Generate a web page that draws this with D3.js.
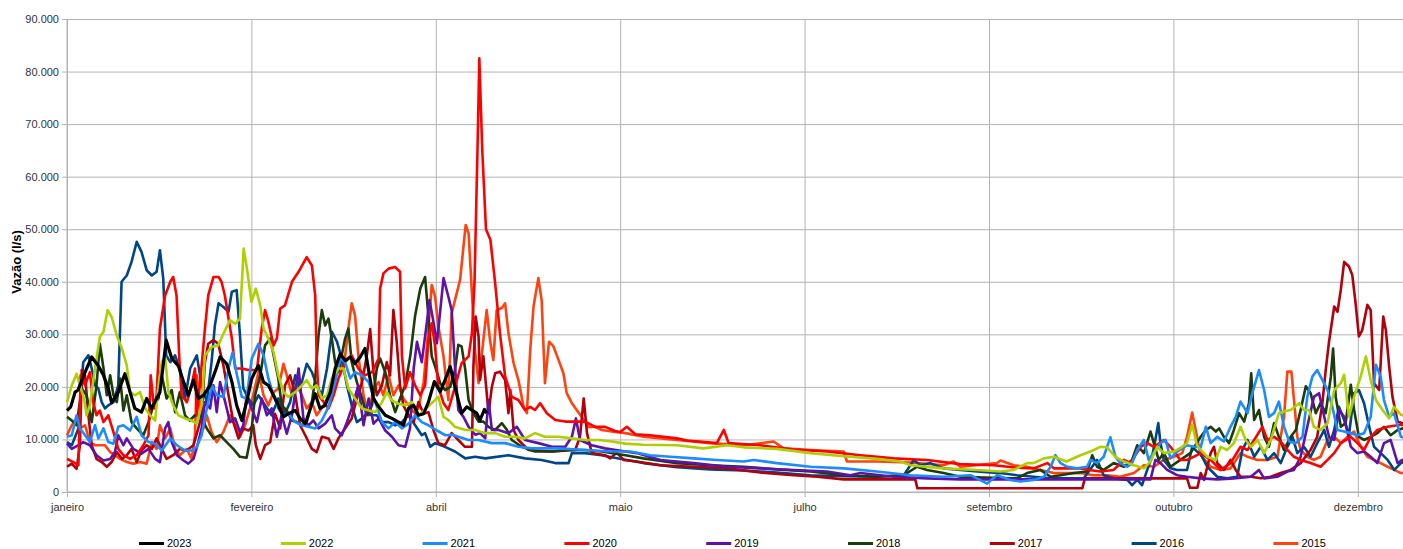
<!DOCTYPE html>
<html>
<head>
<meta charset="utf-8">
<script src="https://cdnjs.cloudflare.com/ajax/libs/d3/7.8.5/d3.min.js"></script>
<style>
  body { margin: 0; background: #fff; }
  svg { display: block; font-family: 'Liberation Sans', Arial, sans-serif; }
</style>
</head>
<body>
<div id="visualization"></div>
<script>
// day-of-year ticks every 50 days (LibreOffice category labels)
var tickDays = [0, 50, 100, 150, 200, 250, 300, 350]
var tickLabels = ['janeiro', 'fevereiro', 'abril', 'maio', 'julho', 'setembro', 'outubro', 'dezembro']
var yTicks = [0, 10, 20, 30, 40, 50, 60, 70, 80, 90]

var years = ['2023', '2022', '2021', '2020', '2019', '2018', '2017', '2016', '2015']
var colors = ['#000000', '#aecf00', '#1a8cff', '#ff0000', '#5e12a8', '#1b3d0c', '#b3000b', '#004586', '#ff420e']

// [day of year, vazao in thousands of l/s]
var y2023 = [[0,15.5],[1,16.2],[2.2,19],[3,19.4],[4.4,22],[6.7,25.7],[8.5,24],[9.9,22.2],[11.2,19.7],[12.1,17],[13.9,19],[15.7,22.5],[17.1,19],[18.4,15.9],[20.2,15.2],[21.6,17.8],[22.9,15.9],[25.2,19],[26.9,28.9],[28.4,25.4],[30.2,24],[31.6,21],[32.9,18.4],[34.3,21.3],[35.6,17.8],[37,18.4],[38.8,20.3],[40.1,22.8],[41.5,25.7],[43.3,24.4],[44.7,21],[46,16.5],[47.4,13.6],[48.7,17.1],[50.1,21.6],[51.9,24.1],[53.3,20.9],[54.6,20.3],[56,18.4],[57.3,16.5],[58.7,14.3],[60,14.9],[61.9,15.5],[63.2,14],[64.6,13],[66,15.9],[67.3,18.7],[68.6,15.9],[70,16.5],[71.4,19],[72.7,23.5],[74.1,26.3],[75.4,25],[76.8,25.7],[78.1,24.4],[79.5,25.7],[80.8,27.3],[81.7,23.5],[83.1,17.8],[84.5,16.2],[86.3,14.6],[88.1,14],[89.9,13.3],[91.2,12.7],[92.6,15.9],[94,16.5],[95.3,14.6],[96.7,14.9],[98,17.1],[99.6,21],[101.2,19.1],[102.5,21.3],[103.9,23.9],[105.2,20],[106.1,17.5],[107,15],[108.4,16.2],[109.8,15.6],[111.1,15],[112,13.7],[113.2,15.7],[113.8,15]]

var y2022 = [[0,17.1],[1.3,20.3],[2.6,22.5],[3.5,20.3],[4.6,17.8],[5.3,14.6],[6.2,16.5],[7.6,23.5],[8.9,29.5],[9.9,30.5],[11,34.6],[12.1,33.3],[13.5,29.8],[14.9,27.3],[16.2,24.1],[17.1,19],[18.4,18.4],[19.8,19],[21.2,15.9],[22.5,14.6],[23.9,13.6],[24.8,20.3],[25.7,24.7],[26.6,25.7],[27.5,19],[28.8,16.5],[30.2,14.6],[32,14],[33.8,13.6],[35.2,13],[36.5,16.5],[37.4,26],[39.2,27.6],[41,27.9],[42.4,30.1],[44.2,32.7],[45.6,32],[46.9,33],[47.9,46.3],[48.8,42.5],[50,36.2],[51.2,38.7],[52.4,35.5],[53.3,31.1],[54.6,29.2],[56,26.6],[57.3,22.2],[58.7,19],[60,18.1],[61.9,19],[63.7,20.3],[65,21.3],[66.4,19.7],[67.7,20.3],[69.1,17.8],[70.5,18.4],[71.8,21.6],[73.6,23.5],[75,23.5],[76.3,19.7],[78.1,17.8],[80,15.9],[81.8,15.5],[83.6,15.2],[85.4,17.1],[86.7,19],[88.1,17.4],[89.9,16.8],[91.7,16.5],[93.5,17.1],[95.3,14.6],[97.1,15.7],[98.9,16.9],[100.7,18.1],[102.1,14.3],[103.4,13.7],[105.2,12.4],[108,11.8],[110.7,11.8],[113.4,11.2],[116.1,11.2],[118.8,10.5],[121.5,10.5],[124.2,10.2],[126.9,11.2],[129.6,10.5],[133.3,10.5],[136.9,10.2],[140.5,9.9],[144.1,9.9],[147.7,9.6],[151.4,9.2],[156.3,9],[165.4,8.9],[172.6,8.3],[179,8.9],[183.5,8.5],[192.5,8.2],[201.6,7.4],[210.6,6.8],[219.6,6.3],[226,5.8],[228.7,5.1],[237.7,4.5],[246.8,4.2],[253.1,3.9],[256.7,4.2],[260.3,5.5],[262.1,5.5],[264.9,6.4],[267.6,6.7],[271,5.8],[274.8,7],[277.5,7.7],[280.2,8.6],[282,8.5],[284.3,6.7],[286.6,5.8],[289.3,5.1],[292,4.5],[293.8,5.8],[295.6,8.6],[297.4,7.4],[300.1,7.7],[302.4,8.6],[303.7,9.3],[305.1,12.8],[306.4,8.9],[307.4,8],[309.2,6.7],[311.5,6.1],[312.8,8.6],[314.6,8],[316.4,9.3],[318.2,12.4],[319.6,9.9],[321,8.6],[322.8,9.9],[324.6,7.4],[326.4,9.9],[328.6,15],[330,15.3],[331.8,15.6],[334.1,16.9],[335.4,15.6],[336.8,15.6],[338.1,12.4],[339.9,11.8],[341.8,13.1],[343.6,19.4],[345.4,20.7],[346.3,22.3],[347.6,14.3],[349,18.1],[350.8,22],[352.2,25.8],[353.5,21.3],[354.9,17.5],[356.7,15.6],[358.5,14],[359.8,16.2],[361.7,14.7],[364,14.2]]

var y2021 = [[0,10.5],[1.3,10.8],[2.6,14.6],[3.5,12.1],[4.9,10.8],[6.2,9.5],[7.6,12.7],[8.5,10.2],[9.9,12.1],[11.2,9.5],[12.6,9.2],[13.9,12.4],[15.3,12.7],[17.1,11.7],[18.9,14.3],[20.2,10.8],[22.1,9.5],[23.9,9.2],[25.7,7.9],[28,10.2],[29.8,8.9],[32,7.9],[33.8,7.9],[35.2,8.6],[36.5,10.8],[37.9,15.9],[39.3,20.3],[40.6,18.4],[42.4,18.1],[43.8,23.5],[44.9,26.6],[46.1,22.2],[47.4,18.1],[48.7,17.8],[50.1,25.4],[51.9,28.2],[53.3,26],[54.6,21.6],[56,18.4],[57.3,15.9],[58.7,14.6],[60,14.9],[61.9,13.3],[63.7,12.7],[65.5,12.4],[67.3,12.1],[69.1,13.6],[70.9,16.2],[72.7,20.9],[74.1,25.4],[75.4,24.7],[76.8,21.6],[78.1,22.8],[80,22.2],[81.8,20.9],[83.6,17.1],[85.4,13.3],[87.2,12.1],[89,13.3],[90.8,12.1],[92.6,13],[94.4,14.6],[96.2,13.3],[98,12.7],[100.3,11.7],[102.6,10.8],[104.5,10.9],[106.1,10.5],[108.9,9.9],[111.6,9.9],[115.2,9.3],[118.8,9.3],[122.4,8.6],[126,8.3],[133.3,8.3],[140.5,8],[147.3,7.7],[152.7,7.7],[158.1,7],[163.6,6.7],[169.9,6.4],[176.2,6.1],[183.5,5.8],[186.2,6.1],[192.5,5.5],[201.6,4.8],[210.6,4.5],[219.6,3.9],[228.7,3.2],[237.7,2.9],[245,3.2],[249.5,1.6],[252.2,3.2],[255.8,2.3],[258.5,2],[262.1,2.3],[264.9,2.9],[266.7,4.8],[268,7],[269.4,5.5],[271.2,4.8],[273.9,4.5],[276.6,4.8],[277.5,6.1],[279.3,5.5],[281.1,6.7],[282.9,10.4],[284.3,6.7],[285.6,5.5],[287.5,4.8],[288.8,5.5],[290.2,8],[292,9.9],[293.3,6.1],[295.1,8],[296.5,9.3],[297.9,9.9],[299.2,6.4],[301,7.7],[303.7,8.9],[305.5,8.6],[307.4,8.5],[308.8,12.4],[310.1,9.3],[311.9,10.5],[313.7,9.6],[315.5,12.4],[316.9,14.3],[318.2,17.2],[320.1,15],[321.4,18.8],[323.2,23.2],[324.6,19.4],[325.9,14.3],[327.3,15],[328.6,17.2],[330,12.4],[331.4,9.6],[333.2,9.3],[335,10.5],[336.3,18.1],[337.7,22],[339,23.2],[340.4,21.3],[341.8,19.4],[343.1,16.2],[344.5,11.8],[346.3,11.5],[348.1,11.2],[349.9,10.8],[351.7,11.2],[353.5,14.3],[354.9,24.2],[356.2,22],[357.1,17.5],[358.5,14.3],[359.8,15],[361.7,10.5],[364,10]]

var y2020 = [[0,6.3],[1.7,5.7],[3.1,5.1],[3.7,22.2],[4.9,20.3],[6.2,22.8],[7.1,17.1],[8,14.6],[8.9,15.5],[9.9,13.3],[11.2,14.6],[12.6,11.4],[13.9,8.2],[15.3,7],[17.1,6.3],[18.9,7],[20.7,8.9],[22.1,10.8],[22.7,22.2],[23.6,15.9],[24.3,18.4],[25.2,31.1],[26.6,37.4],[28,40],[28.8,40.9],[29.7,37.4],[30.5,24.7],[31.1,18.4],[32.5,17.1],[33.8,20.3],[34.7,23.5],[35.2,14.6],[36.1,20.9],[37.4,31.1],[38.3,37.4],[39.7,40.9],[41.1,40.9],[41.9,40],[42.8,37.4],[43.8,33],[44.7,29.2],[45.6,23.5],[47.4,23.5],[49.2,23.2],[51.5,23.2],[52.8,31.1],[53.7,34.6],[54.6,32.4],[56,27.9],[56.9,29.2],[57.8,34.9],[59.1,35.5],[61,40],[62.8,41.9],[65,44.7],[66.4,43.1],[67.3,37.4],[67.7,25.4],[68.2,18.4],[69.6,17.1],[70.9,15.9],[72.3,18.4],[73.6,21.6],[75.4,24.7],[77.2,26],[79,23.5],[80.8,22.2],[82.7,22.8],[84.5,25.4],[84.9,38.7],[85.8,41.6],[87.2,42.5],[89,42.8],[90.3,41.9],[90.8,26],[91.7,19.7],[93,22.8],[94.4,20.3],[95.8,18.4],[97.1,20.3],[98,28.9],[98.9,32.1],[99.8,27.7],[100.7,20],[102.1,16.9],[103.4,15.6],[105.2,20],[107,24.5],[108.9,25.8],[109.8,30.2],[110.5,40],[111.3,65],[111.8,82.5],[112.6,65],[113.6,50],[114.8,48],[116.1,39.7],[117.4,30.2],[118.8,22],[120.6,18.1],[122.4,17.5],[124.2,15.6],[125.6,16.2],[126.9,15.6],[128.3,16.9],[130.1,15],[132.4,13.7],[135.1,13.4],[140.5,13.4],[143.2,12.4],[145.9,12.4],[148.6,11.6],[150,11.4],[151.8,12.4],[154.1,11],[158.1,10.8],[165.4,10.2],[168.1,9.8],[176.2,9.3],[178.1,11.8],[179.4,9.3],[188,8.9],[197,8.1],[206.1,7.7],[215.1,7],[224.2,6.4],[233.2,6.1],[242.2,5.3],[251.3,5.1],[257.6,4.6],[262.1,4.5],[265.8,5.5],[267.6,4.5],[274.8,4.5],[277.1,4.2],[280.2,3.9],[283.8,4.2],[286.6,6.1],[288.4,5.5],[291.1,8.6],[292.9,9.3],[294.7,8.6],[297.4,9.9],[299.2,8.6],[301.9,6.1],[303.7,6.1],[305.5,6.7],[307.4,7.4],[310.1,6.1],[312.8,4.2],[315.5,5.5],[318.2,8.6],[320.1,8],[321.9,9.9],[324.1,12.4],[325.5,9.9],[327.3,10.5],[329.1,9.6],[330.9,8],[332.7,6.7],[334.5,6.1],[337.2,5.5],[339.9,4.8],[341.8,6.1],[343.6,7.4],[345.4,9.3],[348.1,10.5],[349.9,9.3],[351.7,8],[353.5,10.5],[355.3,11.8],[358.1,12.4],[361.7,12.8],[364,12.6]]

var y2019 = [[0,9.2],[1.3,8.2],[3.1,8.9],[4.4,9.5],[6.2,8.9],[8,7],[9.9,6],[11.7,6.3],[13,7.6],[13.9,10.8],[15.3,8.9],[16.2,10.2],[18,8.2],[20.2,7.3],[22.1,8.2],[23.9,6.3],[25.2,5.7],[26.6,12.1],[27.5,13.3],[28.4,9.5],[29.8,7],[31.6,6],[32.9,5.4],[34.3,6.3],[35.6,9.5],[36.5,12.1],[37.4,17.1],[38.8,15.9],[39.7,20.3],[40.6,15.2],[41.5,20.9],[42.9,17.1],[44.2,13.3],[45.6,14],[46.9,11.4],[47.8,12.7],[48.7,18.4],[50.1,15.9],[51.5,13.3],[52.8,17.8],[54.2,14.6],[55.5,15.9],[56.9,10.5],[58.2,14.6],[59.6,11.1],[61,14.6],[62.8,23.5],[64.1,14],[65.5,12.7],[66.8,13.6],[68.2,12.1],[70,13],[71.8,14.6],[72.7,12.1],[74.5,10.8],[75.9,13.3],[77.2,15.9],[79,20.3],[80.4,12.7],[81.8,17.8],[83.1,13],[84.5,14],[86.3,11.7],[88.1,10.5],[89.9,8.9],[91.7,8.6],[93,12.1],[94,23.5],[94.9,28.6],[96.2,24.7],[97.6,32.4],[98.3,36.5],[99.2,33],[100.3,28.3],[102.1,40.7],[103.4,37.2],[104.3,34.6],[105.2,23.9],[106.1,15.6],[107.5,14.3],[108.9,12.4],[110.7,10.9],[112,11.2],[113.4,10.2],[114.3,17.5],[115.2,11.8],[117,11.8],[119.7,11.2],[122,12.4],[124.2,9.9],[127.8,9.3],[131.5,8.6],[135.1,8.6],[136.9,10.5],[138,14],[139.1,9.9],[142.3,8.9],[145.9,8.3],[151.4,7.7],[154.5,7.4],[160.9,6.1],[169.9,5.5],[179,4.8],[188,4.5],[197,4.2],[206.1,3.9],[212.4,3.2],[215.1,3.6],[224.2,2.9],[233.2,2.6],[242.2,2.4],[293.8,2.4],[295.1,6.1],[296.5,5.5],[298.3,4.2],[301,3.2],[303.7,2.9],[307.4,2.6],[311.9,2.4],[316.4,2.6],[321,2.9],[323.2,4.2],[324.6,2.6],[328.2,2.9],[330.9,3.9],[332.7,4.2],[334.5,6.7],[336.3,12.4],[338.1,18.1],[339.5,18.8],[340.9,14.3],[342.2,10.5],[343.6,9.9],[344.9,15.6],[346.3,14.3],[348.1,8.6],[349.9,7.4],[351.7,7.7],[353.5,6.7],[355.3,5.5],[357.1,9.3],[358.9,9.9],[360.8,5.5],[362.1,6.1],[364,6]]

var y2018 = [[0,14.3],[1.3,13.6],[2.6,12.7],[4,19.7],[5.3,18.4],[6.7,13.3],[8,20.3],[8.9,28.2],[9.9,23.5],[10.8,18.4],[11.7,22.2],[12.6,18.4],[13.5,17.1],[14.4,21.6],[15.3,15.5],[16.2,18.4],[17.5,13.3],[18.9,12.1],[20.7,10.8],[22.1,13.3],[23.4,16.5],[24.8,17.8],[25.7,22.2],[27,17.8],[28.4,19.4],[29.3,15.2],[30.6,19],[32,14.6],[33.3,13.6],[34.7,14.6],[36.1,14.6],[37.9,12.1],[39.7,10.2],[41.5,10.8],[43.3,9.5],[45.1,8.2],[46.9,6.7],[48.7,6.5],[49.9,10.8],[51,18.4],[52.4,22.2],[53.7,27.9],[55.1,29.2],[56.4,24.7],[57.3,21.6],[58.2,16.5],[59.6,15.5],[61,13.6],[62.3,13.3],[63.7,12.7],[65,13.3],[66.4,17.1],[67.3,21.6],[68.2,29.8],[69.1,34.6],[70,31.7],[70.9,33],[71.8,29.2],[72.7,24.7],[73.6,22.8],[74.5,26],[75.4,29.2],[76.3,31.1],[77.2,24.7],[78.6,20.9],[80,17.8],[81.3,14.6],[82.7,16.5],[84,23.5],[84.9,25.4],[86.3,22.8],[87.6,18.4],[89,15.2],[90.3,17.8],[91.7,20.3],[93.1,26],[94.4,33.6],[95.8,38.7],[97.1,40.9],[98,33.4],[98.9,25.8],[99.8,23.9],[101.2,20.7],[102.5,19.4],[103.9,20],[105.2,23.2],[106.1,28],[107,27.7],[108,23.2],[108.9,17.5],[110.2,15],[111.6,13.4],[112.9,13.4],[114.3,12.4],[116.1,11.8],[117.9,13.1],[119.3,11.8],[120.6,9.9],[123.3,8.6],[126.9,7.7],[131.5,7.7],[136,8],[140.5,8],[145,7.7],[151.4,7],[156.3,6.4],[165.4,5.5],[174.4,5.1],[183.5,4.8],[192.5,4.3],[201.6,3.9],[210.6,3.2],[219.6,2.9],[226.9,3.2],[230.5,4.8],[233.2,4.2],[237.7,3.6],[242.2,2.9],[255.8,2.6],[257.6,2.6],[260.3,3.6],[263.9,4.2],[266.7,2.9],[269.4,3.2],[273,3.6],[276.6,3.9],[278,7],[279.3,4.8],[281.1,4.2],[283.8,5.5],[286.6,4.8],[288.8,6.1],[290.2,8.9],[292,7.4],[293.8,11.5],[294.7,9.3],[296,6.1],[297.4,7.4],[299.2,4.8],[301.9,6.1],[304.6,7.4],[307.4,10.5],[308.8,11.8],[310.1,12.4],[311.5,11.5],[312.4,12.1],[313.7,10.5],[315.1,9.3],[316.4,11.8],[317.8,15],[319.2,13.4],[320.5,16.9],[321.1,22.6],[321.9,13.7],[323.2,15.6],[324.6,10.5],[325.9,8.6],[327.3,13.1],[328.6,10.5],[330,8],[331.8,10.5],[333.2,11.8],[334.5,15.6],[335.9,20.1],[337.2,18.8],[338.6,15],[339.9,16.9],[341.3,15],[342.7,22],[343.3,27.3],[344,18.1],[345.4,12.4],[346.7,13.1],[348.1,20.4],[349,15.6],[350.3,10.5],[351.7,9.9],[353.5,10.5],[355.3,11.2],[357.1,12.4],[358.9,10.8],[360.8,11.8],[362.1,12.1],[364,12]]

var y2017 = [[0,4.8],[1.3,5.4],[2.6,4.4],[3.5,8.9],[4,23.2],[4.9,22.2],[5.8,14.6],[6.7,8.9],[8,6.3],[9.4,5.7],[10.8,4.8],[12.1,5.7],[13.5,7.6],[14.9,6.3],[16.2,7],[17.5,8.2],[18.9,5.7],[20.2,7.9],[21.6,8.9],[23,8.2],[24.3,10.2],[25.7,8.2],[27,6.3],[28.8,7],[30.6,8.2],[32.4,7.9],[34.3,8.9],[35.6,12.1],[36.5,14.6],[37.4,24.7],[38.3,28.2],[39.7,28.9],[41,28.2],[42.4,24.1],[43.8,18.4],[45.1,13.3],[46.5,10.2],[47.8,12.1],[49.2,11.7],[50.5,12.7],[51.2,8.9],[52.4,6.3],[53.7,8.9],[55.1,9.5],[56.4,14.9],[57.8,12.1],[59.1,20.3],[60.5,22.2],[61.9,18.4],[63.2,12.7],[64.6,10.8],[66.4,8.2],[67.7,7.6],[69.1,10.5],[70.9,10.2],[72.3,8.2],[73.6,10.2],[75.4,12.1],[77.2,14],[78.6,17.8],[80,20.9],[81.3,26],[82.2,31],[83.1,22.8],[84,18.4],[85.4,20.3],[86.7,24.7],[87.6,22.2],[88.5,34.6],[89.4,28.6],[90.3,20.3],[91.2,16.5],[92.6,14.6],[94,13.3],[95.3,17.1],[96.7,14.9],[98,15.2],[99.4,11.7],[100.7,9.3],[102.5,8.9],[104.3,11.2],[106.1,9.9],[107.9,8.6],[109.8,8.6],[110.2,23.9],[110.8,33.4],[111.6,29.6],[112,21.3],[112.9,25.8],[114.3,15],[115.2,20],[116.1,22.6],[117.4,22.9],[118.8,21.3],[119.7,15],[120.2,19.4],[121.1,11.8],[122.4,9.9],[125.1,8],[131.5,7.7],[137.8,8],[139.1,10.5],[140.1,17.8],[141,11.2],[142.3,7.4],[145.9,7],[147.3,6.4],[149.1,7.5],[150.9,6.1],[154.5,5.8],[160.9,5.1],[169.9,4.8],[179,4.5],[188,3.7],[197,3.2],[203.4,2.9],[210.6,2.4],[230,2.4],[230.6,0.7],[275.3,0.7],[276,2.6],[303.7,2.6],[304.5,0.8],[306.5,0.8],[307.4,3.6],[308.3,2.3],[309.2,4.8],[310.1,7.4],[311,8.6],[311.9,5.5],[313.7,4.2],[315.5,6.1],[316.9,4.2],[318.2,2.9],[321,2.9],[323.7,2.6],[326.4,2.9],[329.1,3.6],[331.8,4.2],[334.5,5.5],[337.2,8],[339,10.5],[340.4,16.9],[341.3,23.2],[342.2,28.6],[343.6,35.3],[344.5,34.3],[345.4,38.5],[346.3,43.8],[347.6,42.9],[348.5,41.3],[349.4,35.9],[350.3,29.6],[351.2,30.8],[352.6,35.6],[353.5,34.6],[354.4,20.7],[355.8,19.4],[356.9,33.4],[357.6,30.8],[358.5,23.9],[359.4,18.1],[360.8,13.4],[362.1,13.1],[364,12.5]]

var y2016 = [[0,9.5],[1.3,8.9],[3.1,12.1],[4.4,24.7],[5.8,26],[6.7,23.5],[7.6,20.3],[8.5,19.7],[9.4,17.1],[10.3,15.9],[11.2,16.5],[12.6,17.1],[13.9,20.3],[14.8,40],[16.2,41.2],[17.5,43.8],[18.9,47.6],[20.2,45.7],[21.6,42.2],[23,41.2],[24.3,41.9],[25.2,46],[26.1,40.6],[26.9,26],[28,24.7],[29.3,26],[30.6,23.5],[32,17.8],[33.4,23.5],[35.2,26],[36.5,20.3],[37.9,17.1],[39.2,24.7],[40.1,31.7],[41.1,35.9],[42.4,35.2],[43.8,34.3],[44.7,38.1],[46,38.4],[46.9,29.8],[47.8,19.7],[49.2,17.8],[50.5,16.5],[51.9,18.4],[53.7,16.5],[55.5,14.6],[57.3,17.8],[59.1,14.9],[60.5,17.1],[61.9,22.2],[63.2,19.7],[65,24.4],[66.4,22.8],[67.7,20.3],[69.1,18.4],[70.5,23.5],[71.8,30.5],[73.2,28.6],[74.5,25.4],[75.9,20.3],[77.2,16.5],[78.6,13.3],[80,14],[81.3,14.9],[82.7,14.6],[84,14.6],[85.4,13.3],[87.2,13.3],[89,12.7],[90.8,13.3],[92.6,14.6],[94.4,12.7],[96.2,10.8],[97.1,11.2],[98.5,8.6],[99.8,9.3],[102.5,8.6],[105.2,7.7],[108,6.4],[110.7,6.7],[113.4,6.4],[119.7,7],[124.2,6.4],[128.7,6.1],[132.4,5.5],[136,5.5],[136.9,7.4],[140.5,7.4],[145,7],[147.7,6.6],[156.3,5.5],[165.4,4.7],[174.4,4.3],[183.5,4.1],[192.5,3.7],[201.6,3.2],[210.6,3],[219.6,2.9],[226.9,3.2],[229.6,6.1],[231.4,5.1],[234.1,5.5],[237.7,4.5],[246.8,3.9],[253.1,3.6],[257.6,3.2],[262.1,2.9],[266.7,2.6],[275.7,2.6],[279.3,6.1],[281.1,3.2],[283.8,2.6],[287.5,2.3],[288.8,1.3],[290.2,2.3],[291.5,1.3],[292.9,4.2],[294.2,6.7],[295.1,9.9],[295.9,13.1],[296.5,9.3],[297.4,6.1],[299.2,4.5],[301,4.2],[303.7,4.2],[305.1,8.6],[306.4,7.7],[307.4,7.2],[309.2,4.8],[311.9,2.9],[314.6,2.6],[317.3,2.9],[318.7,8],[320.1,9.9],[321.9,6.7],[323.7,8.6],[325.5,6.1],[327.3,7.4],[329.1,5.5],[330.9,8.6],[332.3,10.5],[333.6,7.4],[335.4,8.6],[337.2,6.7],[339,9.3],[340.9,11.8],[342.2,8.6],[343.6,11.8],[344.9,16.2],[346.3,13.7],[347.6,10.8],[349,18.8],[350.3,19.4],[351.7,16.9],[353.1,12.4],[354.4,8.6],[356.2,7.4],[358.1,6.1],[359.9,4.2],[361.7,5.5],[364,6]]

var y2015 = [[0,10.8],[1.3,12.7],[2.6,14],[3.5,12.1],[4.9,12.7],[6.2,9.5],[7.6,8.9],[10.3,8.9],[11.7,7.6],[13,7],[14.4,6.3],[16.2,5.7],[18,5.4],[19.8,5.7],[21.6,5.4],[23,9.5],[24.3,8.2],[25.2,12.7],[26.6,10.2],[28,12.1],[29.3,8.2],[30.6,7],[32.5,8.2],[33.8,6.3],[34.7,10.8],[35.2,22.2],[36.1,16.5],[37,12.1],[37.9,14.6],[39.2,11.4],[40.6,9.5],[42.4,11.4],[44.2,14.6],[45.6,12.7],[46.9,10.5],[48.3,12.7],[49.6,15.9],[50.5,18.4],[51.9,22.8],[53.3,18.4],[54.6,16.5],[56,19],[57.3,19.7],[58.7,24.4],[59.6,22.2],[61,18.4],[62.3,20.3],[63.7,18.4],[65,15.9],[66.4,17.1],[67.7,14.6],[69.6,16.5],[70.9,18.4],[72.3,20.3],[73.6,24.7],[75,23.5],[76.3,31.1],[77.2,35.9],[78.1,33.6],[79,26],[80.4,18.4],[81.8,14.6],[83.1,19.7],[84.5,20.9],[85.8,18.4],[87.2,22.2],[88.5,18.4],[89.9,20.3],[91.2,17.8],[92.6,16.5],[94,15.2],[95.3,15.9],[96.7,20.9],[98,31.1],[98.9,39.4],[99.8,37.2],[100.7,31.5],[102.1,25.8],[103.4,17.5],[104.3,34],[105.2,36.5],[106.6,40.4],[107.5,46.7],[108.1,50.8],[108.9,49.2],[109.8,37.8],[110.7,26.4],[111.6,20.7],[112.9,28.9],[113.8,34.6],[114.7,28.9],[115.6,25.1],[116.5,34.6],[117.9,35],[118.8,35.9],[119.7,30.2],[121.1,24.5],[122.4,21.3],[123.8,16.2],[124.7,15],[125.6,27],[126.5,35.3],[127.8,40.7],[128.7,36.5],[129.6,20.7],[130.7,28.6],[131.9,27.7],[133.3,25.1],[134.6,22.6],[135.5,18.8],[136.9,16.9],[138.2,15.6],[139.6,14.3],[141.4,12.4],[143.2,12.4],[145,11.8],[147.7,11.5],[151.4,11.2],[156.3,10.5],[165.4,9.9],[174.4,9.3],[183.5,8.9],[191.6,9.6],[194.3,8.3],[201.6,8],[210.6,7.7],[211.5,5.8],[219.6,5.8],[228.7,5.6],[237.7,5.1],[240.4,5.8],[242.2,4.8],[252.2,5.5],[253.1,6],[256.7,5.1],[260.3,4.8],[263.9,4.2],[267.6,3.6],[274.8,3.6],[278.4,3.2],[282,3.2],[285.6,2.9],[289.3,3.6],[292,5.1],[294.7,4.8],[297.4,6.1],[300.1,6.7],[302.4,7.4],[303.7,10.5],[305.1,15.1],[306.4,10.5],[307.4,7],[310.1,4.8],[312.8,4.2],[315.5,4.5],[318.2,7.4],[320.1,6.7],[322.8,6.1],[325.5,6.1],[328.2,6.7],[330,14.3],[330.9,22.9],[332,22.9],[332.7,17.5],[333.6,10.5],[334.5,8],[336.3,6.7],[338.1,6.1],[339.9,6.7],[341.8,9.9],[343.6,10.5],[345.4,9.3],[347.2,10.5],[349,11.5],[350.8,8.6],[352.6,6.7],[354.4,6.1],[356.2,5.5],[358.1,4.8],[359.9,4.2],[361.7,3.6],[364,3.8]]

var seriesData = [y2023, y2022, y2021, y2020, y2019, y2018, y2017, y2016, y2015]

var width = 1403
var height = 549
var plotLeft = 67
var plotTop = 19
var plotBottom = 492

var svg = d3.select('#visualization')
  .append('svg')
  .attr('width', width)
  .attr('height', height)

svg.append('rect')
  .attr('width', width)
  .attr('height', height)
  .attr('fill', '#ffffff')

var x = d3.scaleLinear()
  .domain([0, 365])
  .range([plotLeft, plotLeft + 365 * 3.688])

var y = d3.scaleLinear()
  .domain([0, 90])
  .range([plotBottom, plotTop])

var locale = d3.formatLocale({ decimal: ',', thousands: '.', grouping: [3], currency: ['R$', ''] })
var fmt = locale.format(',d')

// grid lines
svg.append('g')
  .attr('class', 'grid')
  .attr('transform', 'translate(' + plotLeft + ',0)')
  .call(d3.axisLeft(y).tickValues(yTicks).tickSize(-(width - plotLeft)).tickFormat(''))
svg.append('g')
  .attr('class', 'grid')
  .attr('transform', 'translate(0,' + plotBottom + ')')
  .call(d3.axisBottom(x).tickValues(tickDays).tickSize(-(plotBottom - plotTop)).tickFormat(''))
svg.selectAll('.grid line').attr('stroke', '#b3b3b3')
svg.selectAll('.grid .domain').remove()

// axes with short outer ticks and labels
var yAxis = svg.append('g')
  .attr('transform', 'translate(' + plotLeft + ',0)')
  .call(d3.axisLeft(y).tickValues(yTicks).tickSize(5).tickPadding(3).tickFormat(function (d) {
    return fmt(d * 1000)
  }))
var xAxis = svg.append('g')
  .attr('transform', 'translate(0,' + plotBottom + ')')
  .call(d3.axisBottom(x).tickValues(tickDays).tickSize(5).tickPadding(6).tickFormat(function (d, i) {
    return tickLabels[i]
  }))

;[yAxis, xAxis].forEach(function (ax) {
  ax.select('.domain').remove()
  ax.selectAll('line').attr('stroke', '#b3b3b3')
  ax.selectAll('text')
    .attr('fill', '#333333')
    .style('font-family', "'Liberation Sans', Arial, sans-serif")
    .style('font-size', '11px')
})

svg.append('line')
  .attr('x1', plotLeft).attr('x2', width)
  .attr('y1', plotBottom).attr('y2', plotBottom)
  .attr('stroke', '#b3b3b3')
svg.append('line')
  .attr('x1', plotLeft).attr('x2', plotLeft)
  .attr('y1', plotTop).attr('y2', plotBottom)
  .attr('stroke', '#b3b3b3')

svg.append('text')
  .attr('transform', 'translate(16,262) rotate(-90)')
  .attr('text-anchor', 'middle')
  .attr('dy', '.35em')
  .style('font-size', '13px')
  .style('font-weight', 'bold')
  .attr('fill', '#000')
  .text('Vazão (l/s)')

var line = d3.line()
  .x(function (d) { return x(d[0]) })
  .y(function (d) { return y(d[1]) })

// oldest year first, so 2023 ends on top
for (var i = seriesData.length - 1; i >= 0; i--) {
  svg.append('path')
    .datum(seriesData[i])
    .attr('d', line)
    .attr('fill', 'none')
    .attr('stroke', colors[i])
    .attr('stroke-width', i === 0 ? 3.2 : 2.6)
    .attr('stroke-linejoin', 'round')
}

var legend = svg.selectAll('.legend')
  .data(years)
  .enter()
  .append('g')
  .attr('class', 'legend')
  .attr('transform', function (d, i) {
    return 'translate(' + (139 + i * 141.8) + ',543.5)'
  })

legend.append('line')
  .attr('x1', 0)
  .attr('x2', 25)
  .attr('stroke', function (d, i) { return colors[i] })
  .attr('stroke-width', 3)

legend.append('text')
  .attr('x', 28)
  .attr('dy', '.35em')
  .style('font-size', '11px')
  .attr('fill', '#000')
  .text(function (d) { return d })
</script>
</body>
</html>
